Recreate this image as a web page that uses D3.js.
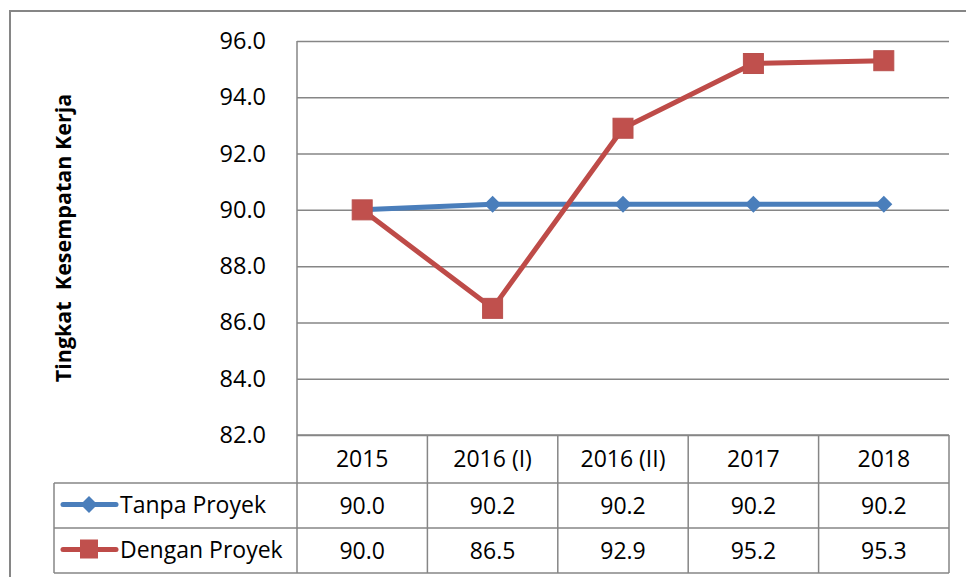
<!DOCTYPE html>
<html><head><meta charset="utf-8">
<script src="https://cdn.jsdelivr.net/npm/d3@7"></script>
<style>body{margin:0;background:#fff}svg{display:block}</style>
</head><body><svg id="c" width="966" height="577"></svg>
<script>
const categories = ["2015", "2016 (I)", "2016 (II)", "2017", "2018"];
const tanpaProyek = [90.0, 90.2, 90.2, 90.2, 90.2];
const denganProyek = [90.0, 86.5, 92.9, 95.2, 95.3];
const yTicks = [82, 84, 86, 88, 90, 92, 94, 96];
const seriesNames = ["Tanpa Proyek", "Dengan Proyek"];
const seriesColors = ["#4A7EBB", "#BE4B48"];
const yTitle = "Tingkat\u00a0\u00a0Kesempatan Kerja";

const svg = d3.select("#c");
const font = "'Open Sans', sans-serif";
const L = 297, R = 949, T = 41, B = 435;
const rowH = [48, 45, 45];
const tableLeft = 54;
const fs = 23;
const diamondPath = r => `M0,${-r}L${r},0L0,${r}L${-r},0Z`;

// outer border
svg.append("rect").attr("x", 10).attr("y", 11).attr("width", 970).attr("height", 580)
  .attr("fill", "none").attr("stroke", "#868686").attr("stroke-width", 2);

const x = d3.scaleBand().domain(categories).range([L, R]);
const y = d3.scaleLinear().domain([82, 96]).range([B, T]);

// gridlines
const yAxis = d3.axisLeft(y).tickValues(yTicks).tickFormat(d3.format(".1f")).tickSize(-(R - L)).tickPadding(31);
const gy = svg.append("g").attr("transform", `translate(${L},0)`).call(yAxis);
gy.select(".domain").remove();
gy.selectAll(".tick line").attr("stroke", "#868686").attr("stroke-width", 1.5);
gy.selectAll(".tick text").attr("font-family", font).attr("font-size", 23.5).attr("fill", "#000");

// y axis line
svg.append("line").attr("x1", L).attr("x2", L).attr("y1", T).attr("y2", B)
  .attr("stroke", "#868686").attr("stroke-width", 1.5);

// y title
svg.append("text").attr("transform", `translate(71,238) rotate(-90)`)
  .attr("text-anchor", "middle").attr("font-family", font).attr("font-weight", "bold")
  .attr("font-size", 21.5).text(yTitle);

// data table
const rowTops = [B, B + rowH[0], B + rowH[0] + rowH[1]];
const tableBottom = B + rowH[0] + rowH[1] + rowH[2];
const tg = svg.append("g").attr("stroke", "#868686").attr("stroke-width", 1.5);
tg.append("line").attr("x1", L).attr("x2", R).attr("y1", B).attr("y2", B);
[rowTops[1], rowTops[2], tableBottom].forEach(yy =>
  tg.append("line").attr("x1", tableLeft).attr("x2", R).attr("y1", yy).attr("y2", yy));
tg.append("line").attr("x1", tableLeft).attr("x2", tableLeft).attr("y1", rowTops[1]).attr("y2", tableBottom);
categories.forEach(c => {
  tg.append("line").attr("x1", x(c)).attr("x2", x(c)).attr("y1", B).attr("y2", tableBottom);
});
tg.append("line").attr("x1", R).attr("x2", R).attr("y1", B).attr("y2", tableBottom);

// header texts
categories.forEach(c => {
  svg.append("text").attr("x", x(c) + x.bandwidth() / 2).attr("y", B + rowH[0] / 2 + 8)
    .attr("text-anchor", "middle").attr("font-family", font).attr("font-size", fs).text(c);
});
const allSeries = [tanpaProyek, denganProyek];
allSeries.forEach((vals, si) => {
  const cy = rowTops[si + 1] + rowH[si + 1] / 2;
  vals.forEach((v, i) => {
    svg.append("text").attr("x", x(categories[i]) + x.bandwidth() / 2).attr("y", cy + 8)
      .attr("text-anchor", "middle").attr("font-family", font).attr("font-size", fs)
      .text(d3.format(".1f")(v));
  });
  // legend key
  svg.append("line").attr("x1", 63).attr("x2", 116).attr("y1", cy - 1).attr("y2", cy - 1)
    .attr("stroke", seriesColors[si]).attr("stroke-width", 5).attr("stroke-linecap", "round");
  if (si === 0) {
    svg.append("path").attr("d", diamondPath(8.5)).attr("transform", `translate(89,${cy - 1})`)
      .attr("fill", "#4A7EBB");
  } else {
    svg.append("rect").attr("x", 80).attr("y", cy - 11).attr("width", 18).attr("height", 19)
      .attr("fill", "#C0504D");
  }
  svg.append("text").attr("x", 120).attr("y", cy + 7).attr("font-family", font).attr("font-size", fs)
    .text(seriesNames[si]);
});

// lines
const line = d3.line().x((d, i) => x(categories[i]) + x.bandwidth() / 2).y(d => y(d));
allSeries.forEach((vals, si) => {
  svg.append("path").datum(vals).attr("d", line).attr("fill", "none")
    .attr("stroke", seriesColors[si]).attr("stroke-width", 5).attr("stroke-linejoin", "round");
});
// markers
tanpaProyek.forEach((v, i) => {
  svg.append("path").attr("d", diamondPath(8.5))
    .attr("transform", `translate(${x(categories[i]) + x.bandwidth() / 2},${y(v)})`)
    .attr("fill", "#4A7EBB");
});
denganProyek.forEach((v, i) => {
  svg.append("rect").attr("x", x(categories[i]) + x.bandwidth() / 2 - 10).attr("y", y(v) - 10)
    .attr("width", 20).attr("height", 20).attr("fill", "#C0504D").attr("stroke", "#B9504D").attr("stroke-width", 1);
});
</script></body></html>
